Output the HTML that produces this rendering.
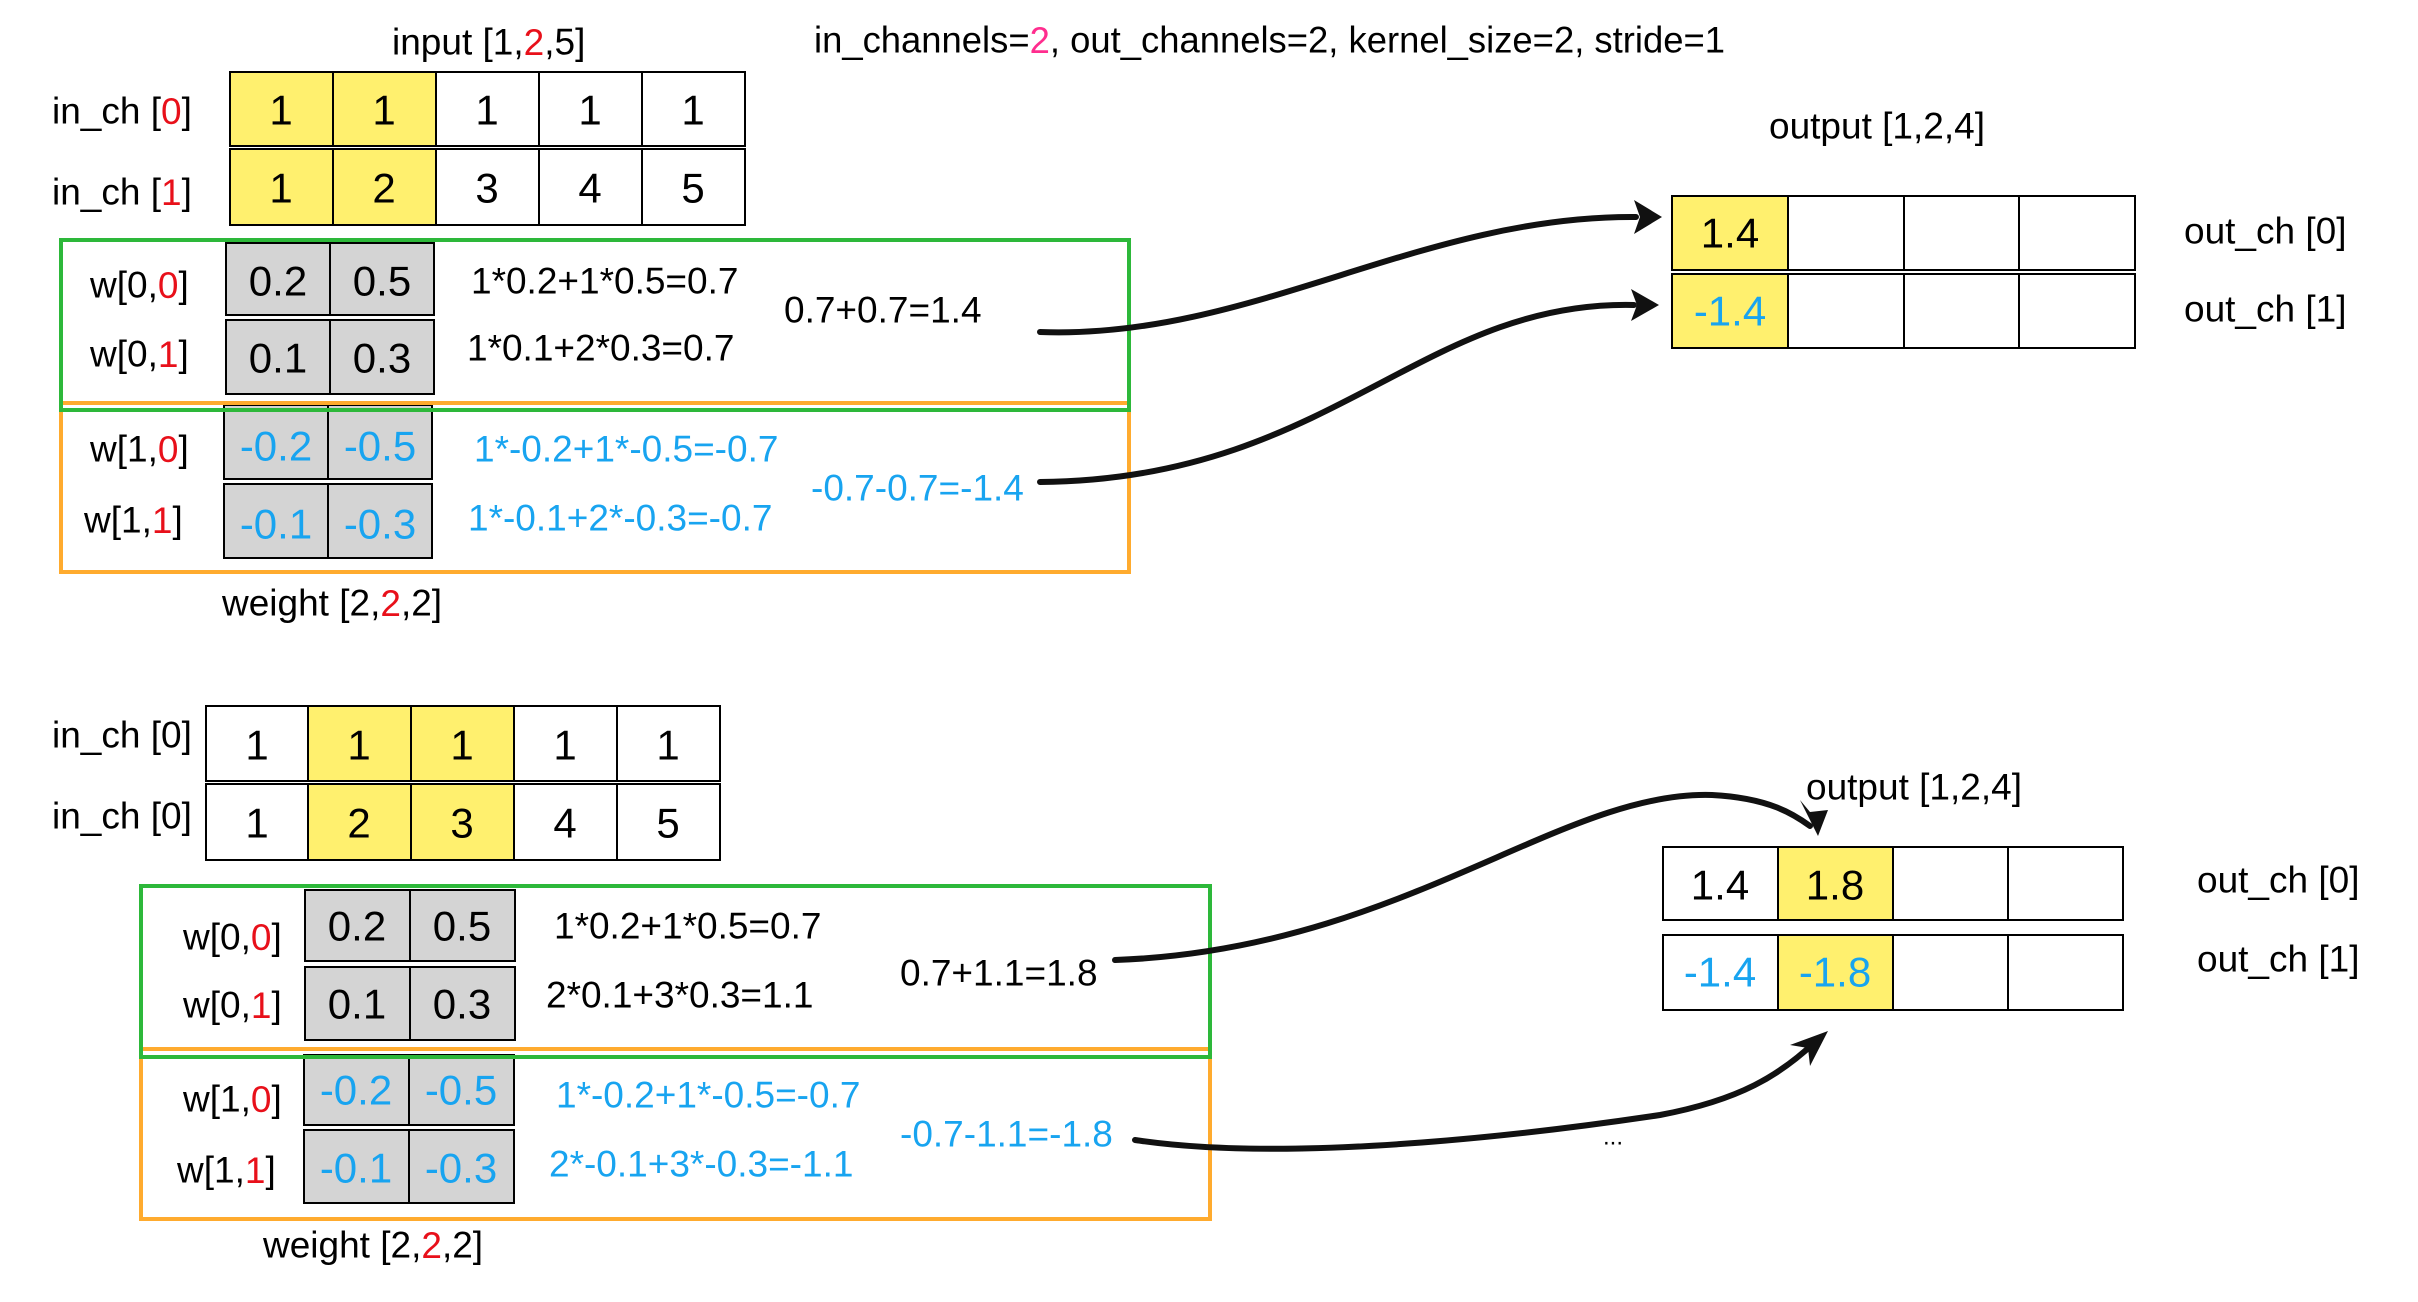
<!DOCTYPE html>
<html><head><meta charset="utf-8"><style>
html,body{margin:0;padding:0;background:#fff;}
svg{display:block;}
text{font-family:"Liberation Sans",Arial,sans-serif;}
</style></head><body>
<svg width="2418" height="1302" viewBox="0 0 2418 1302" xmlns="http://www.w3.org/2000/svg">
<g dominant-baseline="central" font-size="37" fill="#000">
<!-- ============ TOP ============ -->
<text x="392" y="42">input [1,<tspan fill="#e8101a">2</tspan>,5]</text>
<text x="814" y="40" textLength="911" lengthAdjust="spacingAndGlyphs">in_channels=<tspan fill="#ff2d8e">2</tspan>, out_channels=2, kernel_size=2, stride=1</text>
<text x="52" y="111">in_ch [<tspan fill="#e8101a">0</tspan>]</text>
<text x="52" y="192">in_ch [<tspan fill="#e8101a">1</tspan>]</text>
<rect x="230" y="72" width="206" height="74" fill="#fff06e"/>
<rect x="230" y="149" width="206" height="76" fill="#fff06e"/>
<g fill="none" stroke="#000" stroke-width="2">
<rect x="230" y="72" width="515" height="74"/><rect x="230" y="149" width="515" height="76"/>
<path d="M333 72V146M436 72V146M539 72V146M642 72V146M333 149V225M436 149V225M539 149V225M642 149V225"/>
</g>
<g font-size="42" text-anchor="middle">
<text x="281" y="110">1</text><text x="384" y="110">1</text><text x="487" y="110">1</text><text x="590" y="110">1</text><text x="693" y="110">1</text>
<text x="281" y="188">1</text><text x="384" y="188">2</text><text x="487" y="188">3</text><text x="590" y="188">4</text><text x="693" y="188">5</text>
</g>
<g fill="#d4d4d4" stroke="#000" stroke-width="2">
<rect x="226" y="243" width="104" height="72"/><rect x="330" y="243" width="104" height="72"/>
<rect x="226" y="320" width="104" height="74"/><rect x="330" y="320" width="104" height="74"/>
<rect x="224" y="405" width="104" height="74"/><rect x="328" y="405" width="104" height="74"/>
<rect x="224" y="484" width="104" height="74"/><rect x="328" y="484" width="104" height="74"/>
</g>
<g font-size="42" text-anchor="middle">
<text x="278" y="281">0.2</text><text x="382" y="281">0.5</text>
<text x="278" y="358">0.1</text><text x="382" y="358">0.3</text>
<g fill="#18a4f0"><text x="276" y="446">-0.2</text><text x="380" y="446">-0.5</text>
<text x="276" y="524">-0.1</text><text x="380" y="524">-0.3</text></g>
</g>
<text x="90" y="285">w[0,<tspan fill="#e8101a">0</tspan>]</text>
<text x="90" y="354">w[0,<tspan fill="#e8101a">1</tspan>]</text>
<text x="90" y="449">w[1,<tspan fill="#e8101a">0</tspan>]</text>
<text x="84" y="520">w[1,<tspan fill="#e8101a">1</tspan>]</text>
<text x="471" y="281">1*0.2+1*0.5=0.7</text>
<text x="467" y="348">1*0.1+2*0.3=0.7</text>
<text x="784" y="310">0.7+0.7=1.4</text>
<g fill="#18a4f0">
<text x="474" y="449">1*-0.2+1*-0.5=-0.7</text>
<text x="468" y="518">1*-0.1+2*-0.3=-0.7</text>
<text x="811" y="488">-0.7-0.7=-1.4</text>
</g>
<text x="222" y="603">weight [2,<tspan fill="#e8101a">2</tspan>,2]</text>
<rect x="61" y="403" width="1068" height="169" fill="none" stroke="#ffab2e" stroke-width="4"/>
<rect x="61" y="240" width="1068" height="170" fill="none" stroke="#2db83a" stroke-width="4"/>
<text x="1769" y="126">output [1,2,4]</text>
<rect x="1672" y="196" width="116" height="74" fill="#fff06e"/>
<rect x="1672" y="274" width="116" height="74" fill="#fff06e"/>
<g fill="none" stroke="#000" stroke-width="2">
<rect x="1672" y="196" width="463" height="74"/><rect x="1672" y="274" width="463" height="74"/>
<path d="M1788 196V270M1904 196V270M2019 196V270M1788 274V348M1904 274V348M2019 274V348"/>
</g>
<g font-size="42" text-anchor="middle"><text x="1730" y="233">1.4</text><text x="1730" y="311" fill="#18a4f0">-1.4</text></g>
<text x="2184" y="231">out_ch [0]</text>
<text x="2184" y="309">out_ch [1]</text>

<!-- ============ BOTTOM ============ -->
<text x="52" y="735">in_ch [0]</text>
<text x="52" y="816">in_ch [0]</text>
<rect x="308" y="706" width="206" height="75" fill="#fff06e"/>
<rect x="308" y="784" width="206" height="76" fill="#fff06e"/>
<g fill="none" stroke="#000" stroke-width="2">
<rect x="206" y="706" width="514" height="75"/><rect x="206" y="784" width="514" height="76"/>
<path d="M308 706V781M411 706V781M514 706V781M617 706V781M308 784V860M411 784V860M514 784V860M617 784V860"/>
</g>
<g font-size="42" text-anchor="middle">
<text x="257" y="745">1</text><text x="359" y="745">1</text><text x="462" y="745">1</text><text x="565" y="745">1</text><text x="668" y="745">1</text>
<text x="257" y="823">1</text><text x="359" y="823">2</text><text x="462" y="823">3</text><text x="565" y="823">4</text><text x="668" y="823">5</text>
</g>
<g fill="#d4d4d4" stroke="#000" stroke-width="2">
<rect x="305" y="890" width="105" height="71"/><rect x="410" y="890" width="105" height="71"/>
<rect x="305" y="967" width="105" height="73"/><rect x="410" y="967" width="105" height="73"/>
<rect x="304" y="1055" width="105" height="70"/><rect x="409" y="1055" width="105" height="70"/>
<rect x="304" y="1130" width="105" height="73"/><rect x="409" y="1130" width="105" height="73"/>
</g>
<g font-size="42" text-anchor="middle">
<text x="357" y="926">0.2</text><text x="462" y="926">0.5</text>
<text x="357" y="1004">0.1</text><text x="462" y="1004">0.3</text>
<g fill="#18a4f0"><text x="356" y="1090">-0.2</text><text x="461" y="1090">-0.5</text>
<text x="356" y="1168">-0.1</text><text x="461" y="1168">-0.3</text></g>
</g>
<text x="183" y="937">w[0,<tspan fill="#e8101a">0</tspan>]</text>
<text x="183" y="1005">w[0,<tspan fill="#e8101a">1</tspan>]</text>
<text x="183" y="1099">w[1,<tspan fill="#e8101a">0</tspan>]</text>
<text x="177" y="1170">w[1,<tspan fill="#e8101a">1</tspan>]</text>
<text x="554" y="926">1*0.2+1*0.5=0.7</text>
<text x="546" y="995">2*0.1+3*0.3=1.1</text>
<text x="900" y="973">0.7+1.1=1.8</text>
<g fill="#18a4f0">
<text x="556" y="1095">1*-0.2+1*-0.5=-0.7</text>
<text x="549" y="1164">2*-0.1+3*-0.3=-1.1</text>
<text x="900" y="1134">-0.7-1.1=-1.8</text>
</g>
<text x="263" y="1245">weight [2,<tspan fill="#e8101a">2</tspan>,2]</text>
<rect x="141" y="1049" width="1069" height="170" fill="none" stroke="#ffab2e" stroke-width="4"/>
<rect x="141" y="886" width="1069" height="171" fill="none" stroke="#2db83a" stroke-width="4"/>
<text x="1806" y="787">output [1,2,4]</text>
<rect x="1778" y="847" width="115" height="73" fill="#fff06e"/>
<rect x="1778" y="935" width="115" height="75" fill="#fff06e"/>
<g fill="none" stroke="#000" stroke-width="2">
<rect x="1663" y="847" width="460" height="73"/><rect x="1663" y="935" width="460" height="75"/>
<path d="M1778 847V920M1893 847V920M2008 847V920M1778 935V1010M1893 935V1010M2008 935V1010"/>
</g>
<g font-size="42" text-anchor="middle"><text x="1720" y="885">1.4</text><text x="1835" y="885">1.8</text>
<text x="1720" y="972" fill="#18a4f0">-1.4</text><text x="1835" y="972" fill="#18a4f0">-1.8</text></g>
<text x="2197" y="880">out_ch [0]</text>
<text x="2197" y="959">out_ch [1]</text>
<text x="1603" y="1137" font-size="24">...</text>
</g>
<g fill="none" stroke="#111" stroke-width="6" stroke-linecap="round">
<path d="M1040 332 C1250 340 1420 215 1636 217"/>
<path d="M1040 482 C1330 480 1420 300 1634 305"/>
<path d="M1115 960 C1400 950 1560 790 1712 795 C1770 798 1795 815 1810 826"/>
<path d="M1135 1140 C1300 1165 1560 1130 1660 1115 C1740 1100 1780 1075 1815 1042"/>
</g>
<g fill="#111">
<polygon points="1662,217 1634,200 1640,217 1634,234"/>
<polygon points="1659,305 1631,289 1637,305 1631,321"/>
<polygon points="1818,836 1800,800 1810,812 1828,810"/>
<polygon points="1828,1031 1790,1045 1808,1048 1810,1066"/>
</g>
</svg>
</body></html>
